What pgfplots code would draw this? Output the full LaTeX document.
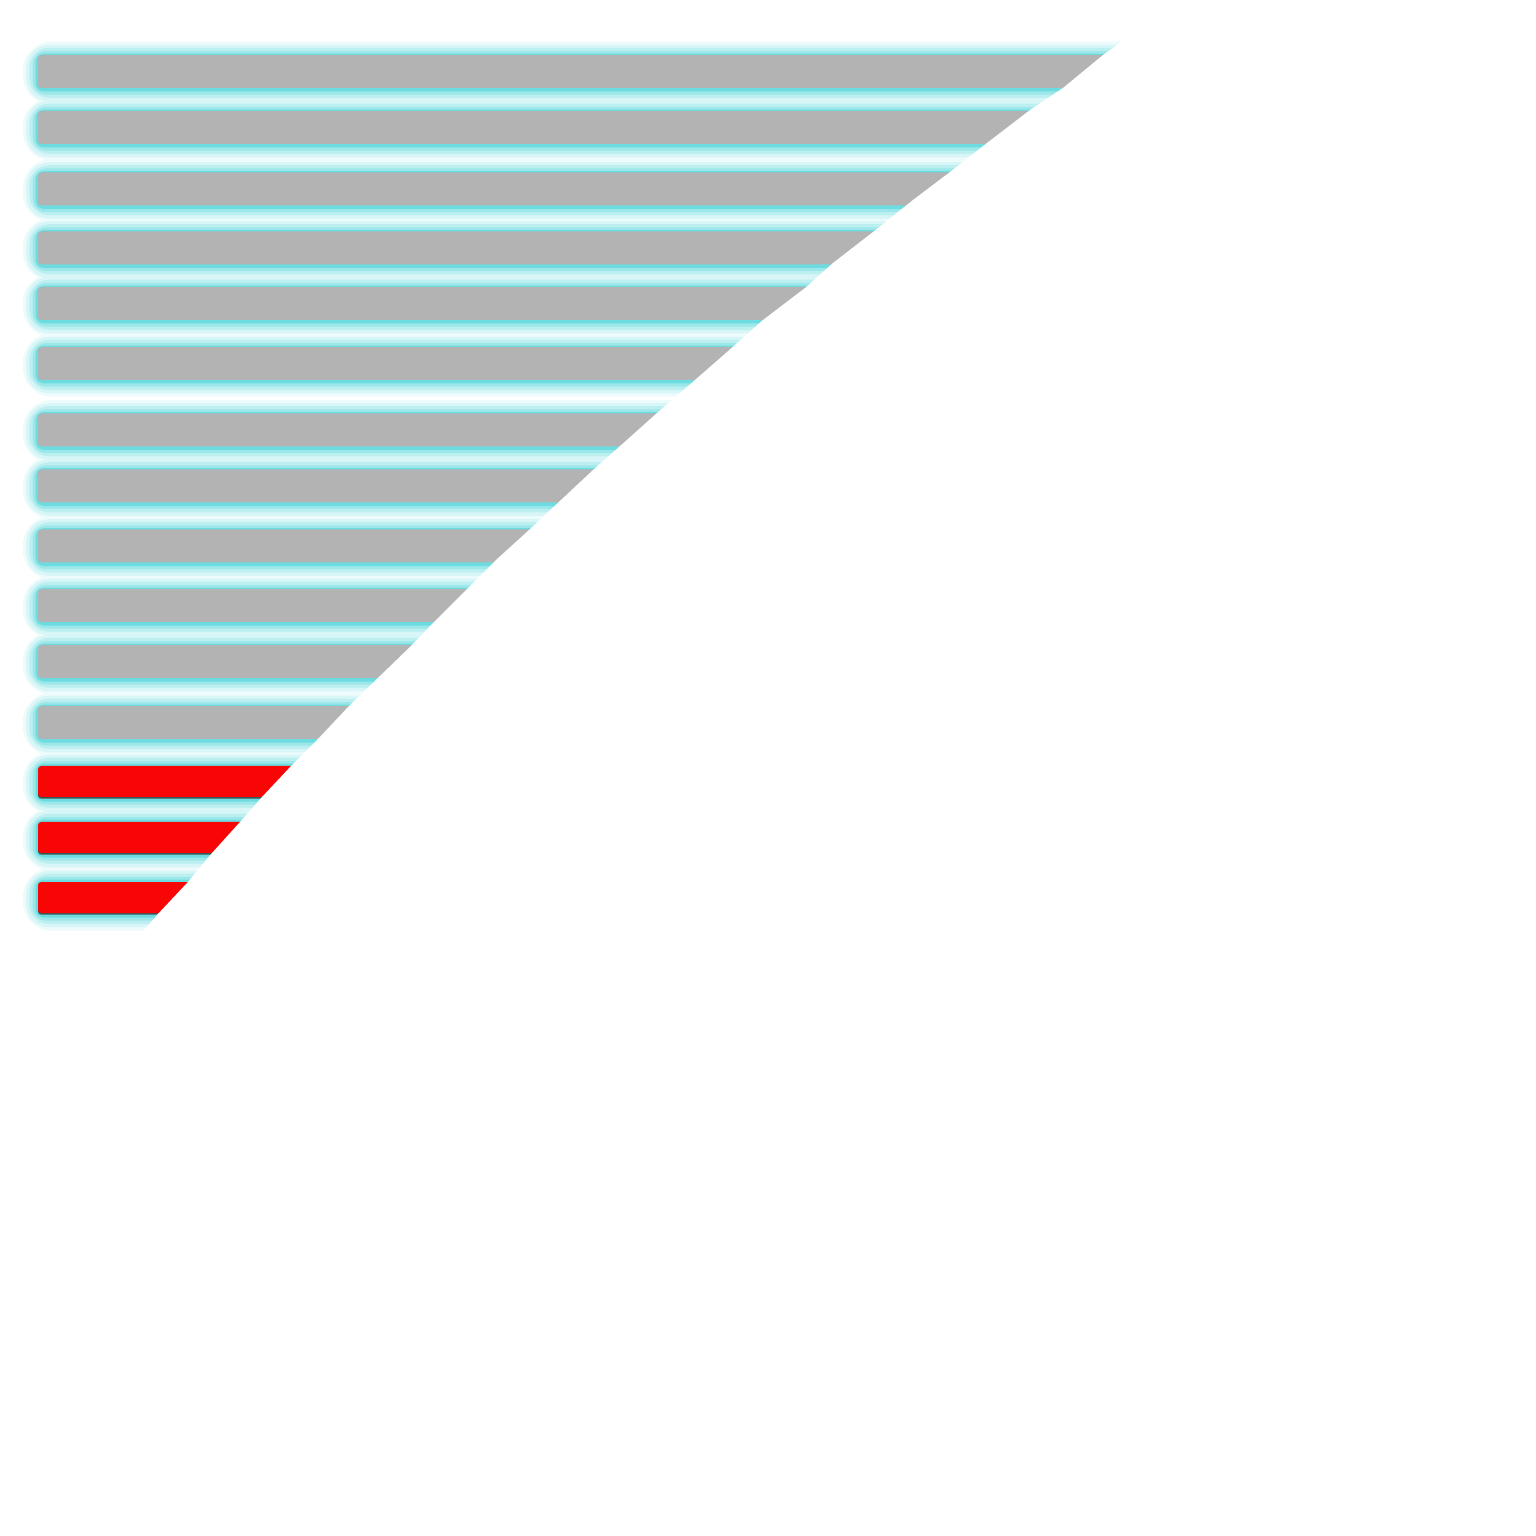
\documentclass[border=0pt]{standalone}
\usepackage{pgfplots}
\pgfplotsset{compat=1.18}
\usepackage{pgfplotstable}
\definecolor{barGray}{RGB}{179,179,179}
\definecolor{barRed}{RGB}{248,5,5}
\definecolor{glow}{RGB}{20,200,205}
\pgfplotstableread{
y len
71.5 1200
127.5 1200
189 1200
248 1200
303.5 1200
363.5 1200
430 1200
486 1200
546 1200
605.5 1200
661.5 1200
722.5 1200
781.5 1200
837.5 1200
897.5 1200
}\alltab
\pgfplotstableread{
y len
71.5 1200
127.5 1200
189 1200
248 1200
303.5 1200
363.5 1200
430 1200
486 1200
546 1200
605.5 1200
661.5 1200
722.5 1200
}\graytab
\pgfplotstableread{
y len
781.5 1200
837.5 1200
897.5 1200
}\redtab
\pgfplotsset{
  glowbar/.style={xbar, bar shift=0pt, bar width=33, draw=glow, fill=none, line join=round},
}
\begin{document}
\begin{tikzpicture}
\begin{axis}[
  width=10cm, height=10cm, scale only axis,
  xmin=-38, xmax=1498, ymin=0, ymax=1536,
  y dir=reverse,
  hide axis,
  xbar,
]
\addplot[glowbar, line width=5.6pt, opacity=0.07, rounded corners=2.5pt, yshift=-0.3pt] table[x=len,y=y] {\alltab};
\addplot[glowbar, line width=4.4pt, opacity=0.10, rounded corners=2pt, yshift=-0.3pt] table[x=len,y=y] {\alltab};
\addplot[glowbar, line width=3.2pt, opacity=0.14, rounded corners=2pt, yshift=-0.25pt] table[x=len,y=y] {\alltab};
\addplot[glowbar, line width=2.0pt, opacity=0.2, rounded corners=1.5pt, yshift=-0.25pt] table[x=len,y=y] {\alltab};
\addplot[glowbar, line width=0.9pt, opacity=0.35, rounded corners=1pt, yshift=-0.2pt] table[x=len,y=y] {\alltab};
\addplot[xbar, bar shift=0pt, bar width=33, draw=none, fill=barGray, rounded corners=0.6pt] table[x=len,y=y] {\graytab};
\addplot[xbar, bar shift=0pt, bar width=31, draw=none, fill=black!80, opacity=0.8, rounded corners=0.6pt, yshift=-0.3pt] table[x=len,y=y] {\redtab};
\addplot[xbar, bar shift=0pt, bar width=31, draw=none, fill=barRed, rounded corners=0.6pt] table[x=len,y=y] {\redtab};
\addplot[draw=none, fill=white, sharp plot, forget plot] coordinates {
(1132,0) (1079,45) (1065,55) (1025,88) (992,110) (949,143) (912,172) (875,200)
(835,232) (795,263) (767,288) (725,320) (697,345) (657,380) (619,413) (581,447)
(555,470) (523,500) (491,530) (458,560) (430,588) (396,622) (374,645) (343,675)
(312,705) (279,740) (254,765) (224,797) (202,822) (174,853) (149,883) (119,915)
(82,958) (-38,1100) (-38,1536) (1498,1536) (1498,0) (1132,0)
};
\end{axis}
\end{tikzpicture}
\end{document}
